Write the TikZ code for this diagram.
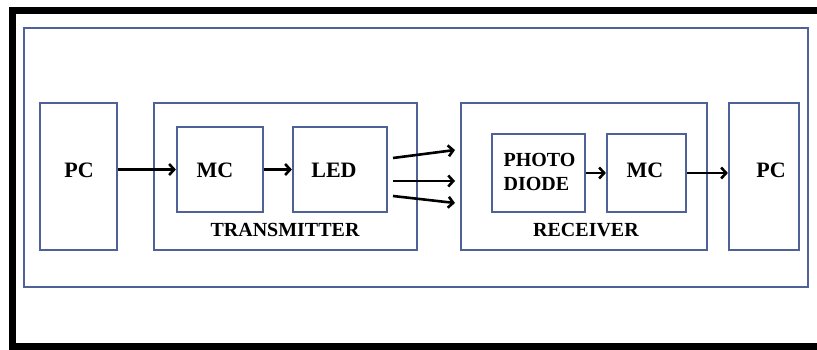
\documentclass[tikz,border=0pt]{standalone}
\usepackage{fontspec}
\setmainfont{Liberation Serif}
\usetikzlibrary{arrows.meta}
\definecolor{boxblue}{RGB}{78,98,152}
\tikzset{
  blk/.style={draw=boxblue, line width=2.2pt, inner sep=0pt},
  lbl/.style={font=\bfseries\fontsize{22}{24}\selectfont, inner sep=0pt},
  sublbl/.style={font=\bfseries\fontsize{20}{24}\selectfont, inner sep=0pt},
  sig/.style={-{Straight Barb[length=5pt,width=11pt]}, line width=2.6pt},
}
\begin{document}
\begin{tikzpicture}[x=1pt,y=-1pt]
\useasboundingbox (0,0) rectangle (817,350);
% black border, open on the right
\draw[line width=7pt] (817,10.5) -- (12.5,10.5) -- (12.5,346.5) -- (817,346.5);
\node[blk, minimum width=784pt, minimum height=259pt] (frame) at (416,157.5) {};
% boxes
\node[blk, minimum width=77pt, minimum height=147pt] (pcL) at (78.5,176.5) {};
\node[blk, minimum width=263pt, minimum height=147pt] (tx) at (285.5,176.5) {};
\node[blk, minimum width=86pt, minimum height=85pt] (mcT) at (220,169.5) {};
\node[blk, minimum width=94pt, minimum height=85pt] (led) at (340,169.5) {};
\node[blk, minimum width=246pt, minimum height=147pt] (rx) at (584,176.5) {};
\node[blk, minimum width=93pt, minimum height=78pt] (pd) at (538.5,173) {};
\node[blk, minimum width=79pt, minimum height=78pt] (mcR) at (646.5,173) {};
\node[blk, minimum width=70pt, minimum height=147pt] (pcR) at (764,176.5) {};
% texts
\node[lbl] (pcLtxt) at (79,170) {PC};
\node[lbl] (mcTtxt) at (215,170) {MC};
\node[lbl] (ledtxt) at (334,170) {LED};
\node[sublbl] (txtxt) at (285,230) {TRANSMITTER};
\node[sublbl, align=left] (pdtxt) at (539.5,172) {PHOTO\\DIODE};
\node[lbl] (mcRtxt) at (645,170) {MC};
\node[sublbl] (rxtxt) at (586,230) {RECEIVER};
\node[lbl] (pcRtxt) at (771,170) {PC};
% signal path
\draw[sig] (pcL.east |- mcT.west) -- (mcT.west);
\draw[sig] (mcT.east) -- (led.west);
\coordinate (b1s) at (393,158); \coordinate (b1e) at (455,150);
\coordinate (b2s) at (393,181); \coordinate (b2e) at (455,181);
\coordinate (b3s) at (393,196); \coordinate (b3e) at (455,203);
\draw[sig] (b1s) -- (b1e);
\draw[sig] (b2s) -- (b2e);
\draw[sig] (b3s) -- (b3e);
\draw[sig] (pd.east) -- (mcR.west);
\draw[sig] (mcR.east) -- (mcR.east -| pcR.west);
\end{tikzpicture}
\end{document}
